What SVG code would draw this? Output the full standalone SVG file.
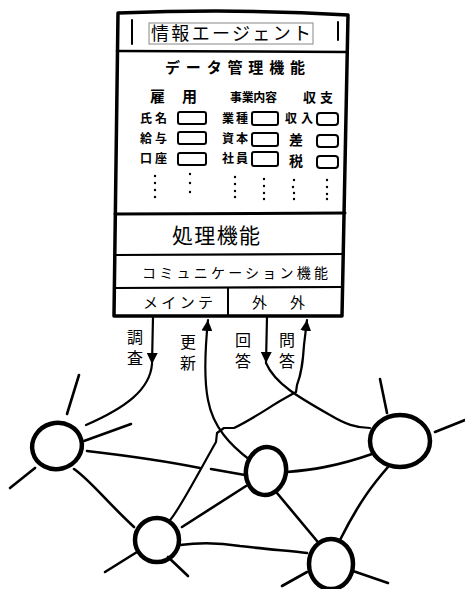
<svg xmlns="http://www.w3.org/2000/svg" width="465" height="589" viewBox="0 0 465 589">
<style>
.jp{font-family:"Noto Sans CJK JP","Noto Sans CJK SC",sans-serif;fill:#000}
.vt{font-family:"Noto Sans CJK JP","Noto Sans CJK SC",sans-serif;fill:#000;font-size:16px;writing-mode:vertical-rl;letter-spacing:5px}
.hw{font-family:"Noto Sans CJK JP",sans-serif;fill:#000;font-weight:bold}
.ln{fill:none;stroke:#000;stroke-linecap:round;stroke-linejoin:round}
.sb{fill:none;stroke:#000;stroke-width:2;}
.dot{fill:#000}
.node{fill:none;stroke:#000;stroke-width:4.5}
.edge{fill:none;stroke:#000;stroke-width:2.6;stroke-linecap:round}
.conn{fill:none;stroke:#000;stroke-width:2.2;stroke-linecap:round;stroke-linejoin:round}
</style>
<defs>
<marker id="ah" markerUnits="userSpaceOnUse" markerWidth="12" markerHeight="12" viewBox="0 0 12 12" refX="11" refY="6" orient="auto">
<path d="M0,0.5 L11,6 L0,11.5 Z" fill="#000"/>
</marker>
</defs>
<rect width="465" height="589" fill="#fff"/>

<g id="agent">
<path class="ln" stroke-width="3.5" d="M118,13 C170,11 250,9 348,15 L342,316 L114,316 Z"/>
<path class="ln" stroke-width="2" d="M132,20 L132,44 M338,22 L338,40"/>
<rect x="149" y="23" width="164" height="21" fill="none" stroke="#888" stroke-width="1"/>
<text class="jp" x="151" y="40" font-size="18" textLength="160" lengthAdjust="spacing">情報エージェント</text>
<path class="ln" stroke-width="2.5" d="M117,51 L347,52"/>

<text class="hw" x="165" y="73" font-size="15" textLength="140" lengthAdjust="spacing">データ管理機能</text>
<text class="hw" x="150" y="102" font-size="15">雇</text>
<text class="hw" x="182" y="102" font-size="15">用</text>
<text class="hw" x="230" y="102" font-size="12" textLength="47" lengthAdjust="spacing">事業内容</text>
<text class="hw" x="303" y="102" font-size="13" textLength="30" lengthAdjust="spacing">収支</text>

<text class="hw" x="140" y="123" font-size="12" textLength="27" lengthAdjust="spacing">氏名</text>
<text class="hw" x="140" y="143" font-size="12" textLength="27" lengthAdjust="spacing">給与</text>
<text class="hw" x="140" y="163" font-size="12" textLength="27" lengthAdjust="spacing">口座</text>
<text class="hw" x="222" y="123" font-size="12" textLength="26" lengthAdjust="spacing">業種</text>
<text class="hw" x="222" y="143" font-size="12" textLength="26" lengthAdjust="spacing">資本</text>
<text class="hw" x="222" y="163" font-size="12" textLength="26" lengthAdjust="spacing">社員</text>
<text class="hw" x="285" y="123" font-size="12" textLength="28" lengthAdjust="spacing">収入</text>
<text class="hw" x="289" y="145" font-size="14">差</text>
<text class="hw" x="289" y="166" font-size="14">税</text>

<rect class="sb" x="178" y="112" width="28" height="12" rx="2"/>
<rect class="sb" x="178" y="132" width="28" height="12" rx="2"/>
<rect class="sb" x="178" y="153" width="28" height="12" rx="2"/>
<rect class="sb" x="252" y="112" width="26" height="13" rx="2"/>
<rect class="sb" x="252" y="133" width="26" height="13" rx="2"/>
<rect class="sb" x="252" y="152" width="26" height="14" rx="2"/>
<rect class="sb" x="317" y="113" width="21" height="12" rx="3"/>
<rect class="sb" x="317" y="135" width="21" height="12" rx="3"/>
<rect class="sb" x="317" y="156" width="21" height="12" rx="3"/>

<g class="dot">
<circle cx="155" cy="176" r="1.2"/><circle cx="155" cy="183" r="1.2"/><circle cx="155" cy="190" r="1.2"/><circle cx="155" cy="197" r="1.2"/>
<circle cx="190" cy="174" r="1.2"/><circle cx="190" cy="183" r="1.2"/><circle cx="190" cy="192" r="1.2"/>
<circle cx="235" cy="177" r="1.2"/><circle cx="235" cy="184" r="1.2"/><circle cx="235" cy="191" r="1.2"/><circle cx="235" cy="197" r="1.2"/>
<circle cx="264" cy="179" r="1.2"/><circle cx="264" cy="186" r="1.2"/><circle cx="264" cy="193" r="1.2"/><circle cx="264" cy="199" r="1.2"/>
<circle cx="294" cy="180" r="1.2"/><circle cx="293" cy="187" r="1.2"/><circle cx="294" cy="193" r="1.2"/><circle cx="294" cy="199" r="1.2"/>
<circle cx="327" cy="180" r="1.2"/><circle cx="327" cy="187" r="1.2"/><circle cx="327" cy="194" r="1.2"/><circle cx="327" cy="199" r="1.2"/>
</g>

<path class="ln" stroke-width="3" d="M115,214 L345,213"/>
<text class="jp" x="172" y="243" font-size="21" textLength="88" lengthAdjust="spacing">処理機能</text>
<path class="ln" stroke-width="2.2" d="M115,255 L344,254"/>
<text class="jp" x="142" y="278" font-size="14" textLength="186" lengthAdjust="spacing">コミュニケーション機能</text>
<path class="ln" stroke-width="2.2" d="M114,288 L343,287"/>
<text class="jp" x="143" y="308" font-size="15" textLength="70" lengthAdjust="spacing">メインテ</text>
<path class="ln" stroke-width="2" d="M228,288 L228,315"/>
<text class="jp" x="252" y="308" font-size="15">外</text>
<text class="jp" x="290" y="308" font-size="15">外</text>
</g>

<g id="connectors">
<path class="conn" d="M153,317 L152,364" marker-end="url(#ah)"/>
<path class="conn" d="M152,364 C150,390 125,408 86,425"/>
<path class="conn" d="M250,460 C230,445 213,427 208,400 C204,380 205,350 208,320" marker-end="url(#ah)"/>
<path class="conn" d="M267,317 L266,363" marker-end="url(#ah)"/>
<path class="conn" d="M266,363 C275,384 300,398 330,415 C345,424 356,428 370,428"/>
<path class="conn" d="M170,520 C178,512 200,470 216,442 L217,433 L224,428 L234,428 C255,418 272,405 287,397 L296,392 L297,385 C302,372 303,360 304,345 L307,320" marker-end="url(#ah)"/>
<text class="vt" x="135" y="329">調査</text>
<text class="vt" x="188" y="334">更新</text>
<text class="vt" x="243" y="332">回答</text>
<text class="vt" x="287" y="332">問答</text>
</g>

<g id="edges">
<path class="edge" d="M79,375 L67,414"/>
<path class="edge" d="M10,488 L35,468"/>
<path class="edge" d="M84,441 L131,424"/>
<path class="edge" d="M87,451 C130,456 170,462 200,468"/>
<path class="edge" d="M211,469 L245,475"/>
<path class="edge" d="M74,469 C90,480 105,500 134,527"/>
<path class="edge" d="M105,572 L137,552"/>
<path class="edge" d="M188,576 L168,557"/>
<path class="edge" d="M182,527 L246,486"/>
<path class="edge" d="M180,545 C195,543 215,542 240,546 C265,549 290,551 307,553"/>
<path class="edge" d="M287,472 C310,470 335,467 372,454"/>
<path class="edge" d="M277,493 L317,541"/>
<path class="edge" d="M380,379 L387,413"/>
<path class="edge" d="M435,432 L465,420"/>
<path class="edge" d="M388,467 C375,482 360,500 340,540"/>
<path class="edge" d="M282,586 L307,572"/>
<path class="edge" d="M353,571 L388,583"/>
</g>

<g id="nodeA"><ellipse class="node" cx="57" cy="446" rx="25" ry="23" transform="rotate(-15 57 446)"/></g>
<g id="nodeB"><ellipse class="node" cx="157" cy="540" rx="22" ry="22"/></g>
<g id="nodeC"><ellipse class="node" cx="266" cy="471" rx="20" ry="24" transform="rotate(10 266 471)"/></g>
<g id="nodeD"><ellipse class="node" cx="400" cy="441" rx="30" ry="26"/></g>
<g id="nodeE"><ellipse class="node" cx="331" cy="564" rx="22" ry="25"/></g>
</svg>
